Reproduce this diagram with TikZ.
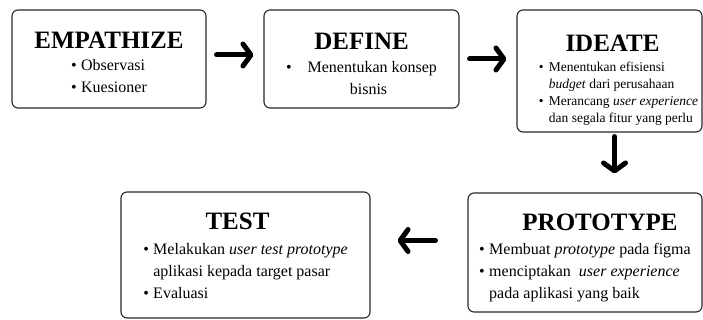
\documentclass[tikz,border=0pt]{standalone}
\usepackage{fontspec}
\setmainfont{Liberation Serif}
\usetikzlibrary{arrows.meta,positioning}
\tikzset{
  stage/.style={rectangle, rounded corners=6pt, draw=black!85, line width=1.1pt, align=center, inner sep=0pt, font=\fontsize{16}{22}\selectfont},
  arr/.style={-{Straight Barb[length=8pt,width=22pt,round]}, line width=5pt, line cap=round}
}
% optional arg: height of a strut that pushes the text down
\newcommand{\ttl}[2][17]{{\fontsize{25}{29}\selectfont\bfseries\rule{0pt}{#1pt}#2}}
\newcommand{\itm}{\makebox[10pt][l]{\textbullet}}
\newcommand{\gap}{\hspace*{10pt}}

\begin{document}
\begin{tikzpicture}[x=1pt, y=-1pt]
\useasboundingbox (0,0) rectangle (703,320);
\node[stage, minimum width=194pt, minimum height=98pt] (emp) at (109,59) {\ttl[30]{EMPATHIZE}\\[0pt]
  \begin{tabular}[t]{@{}l@{}}\itm Observasi\\ \itm Kuesioner\end{tabular}};
\node[stage, minimum width=195pt, minimum height=98pt] (def) at (361.5,59) {\ttl[32]{DEFINE}\\[1pt]
  \begin{tabular}[t]{@{}c@{}}\textbullet\quad Menentukan konsep\\ \hspace*{14pt}bisnis\end{tabular}};
\node[stage, minimum width=185pt, minimum height=122pt] (ide) at (609.5,71) {\ttl[38]{\hspace*{6pt}IDEATE}\\[-2pt]
  \hspace*{18pt}{\fontsize{13.5}{17}\selectfont\begin{tabular}[t]{@{}l@{}}\itm Menentukan efisiensi\\ \gap\textit{budget} dari perusahaan\\
  \itm Merancang \textit{user experience}\\ \gap dan segala fitur yang perlu\end{tabular}}};
\node[stage, minimum width=234pt, minimum height=119pt] (pro) at (585,252.5) {\ttl[31]{\hspace*{30pt}PROTOTYPE}\\[2pt]
  \begin{tabular}[t]{@{}l@{}}\itm Membuat \textit{prototype} pada figma\\ \itm menciptakan \ \textit{user experience}\\
  \gap pada aplikasi yang baik\end{tabular}};
\node[stage, minimum width=249pt, minimum height=126pt] (tst) at (245.5,255) {\ttl[24]{\hspace*{-16pt}TEST}\\[3pt]
  \begin{tabular}[t]{@{}l@{}}\itm Melakukan \textit{user test prototype}\\ \gap aplikasi kepada target pasar\\
  \itm Evaluasi\end{tabular}};
\draw[arr, shorten <=10pt, shorten >=10pt] ([yshift=4pt]emp.east) -- ([yshift=4pt]def.west);
\draw[arr, shorten <=10pt, shorten >=10pt] (def.east) -- (def.east -| ide.west);
\draw[arr, shorten <=4pt, shorten >=19pt] ([xshift=5pt]ide.south) -- ([xshift=5pt]ide.south |- pro.north);
\draw[arr, shorten <=32pt, shorten >=27pt] ([yshift=12pt]pro.west) -- ([yshift=12pt]pro.west -| tst.east);
\end{tikzpicture}
\end{document}
